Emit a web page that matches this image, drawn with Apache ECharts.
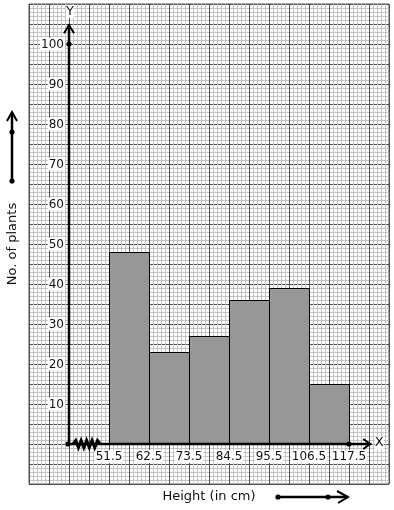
<!DOCTYPE html>
<html><head><meta charset="utf-8">
<script src="https://cdn.jsdelivr.net/npm/echarts@6/dist/echarts.min.js"></script>
<style>html,body{margin:0;padding:0;background:#fff}#c{width:394px;height:510px}</style>
</head><body><div id="c"></div>
<script>
// ---- data ----
const classBounds = ['51.5', '62.5', '73.5', '84.5', '95.5', '106.5', '117.5'];
const frequencies = [48, 23, 27, 36, 39, 15];
const yTickValues = [10, 20, 30, 40, 50, 60, 70, 80, 90, 100];
const xTitle = 'Height (in cm)';
const yTitle = 'No. of plants';

// ---- chart ----
const FONT = 'DejaVu Sans';
const chart = echarts.init(document.getElementById('c'), null, { renderer: 'canvas' });
const barData = frequencies.map((v, i) => [i + 1, i + 2, v]);

const X_MIN = -1, X_MAX = 8, Y_MIN = -10, Y_MAX = 110;
const MINOR = '#c4c4c4', MAJOR = '#505050';

function baseX(extra) {
  return Object.assign({
    type: 'value', min: X_MIN, max: X_MAX, interval: 0.5, gridIndex: 0,
    axisLine: { show: false, onZero: false }, axisTick: { show: false },
    axisLabel: { show: false }, splitLine: { show: false },
    minorTick: { show: false, splitNumber: 5 }, minorSplitLine: { show: false }
  }, extra);
}
function baseY(extra) {
  return Object.assign({
    type: 'value', min: Y_MIN, max: Y_MAX, interval: 5, gridIndex: 0,
    axisLine: { show: false, onZero: false }, axisTick: { show: false },
    axisLabel: { show: false }, splitLine: { show: false },
    minorTick: { show: false, splitNumber: 5 }, minorSplitLine: { show: false }
  }, extra);
}

const option = {
  animation: false,
  backgroundColor: '#fff',
  grid: { left: 29, top: 4, width: 360, height: 480, containLabel: false, outerBoundsMode: 'none', show: true,
          borderColor: MAJOR, borderWidth: 1, backgroundColor: 'transparent' },
  xAxis: [
    baseX({ z: 1, minorSplitLine: { show: true, lineStyle: { color: MINOR, width: 1 } } }),
    baseX({ z: 2, position: 'top', splitLine: { show: true, lineStyle: { color: MAJOR, width: 1, type: 'solid' } } }),
    baseX({
      z: 3, position: 'bottom', offset: -40,
      axisLine: { show: false, onZero: false },
      axisLabel: {
        show: true, margin: 6, color: '#111', fontFamily: FONT, fontSize: 12,
        formatter: v => (Number.isInteger(v) && v >= 1 && v <= classBounds.length) ? '{b|' + classBounds[v - 1] + '}' : '',
        rich: { b: { backgroundColor: '#fff', color: '#111', fontFamily: FONT, fontSize: 12, padding: [1, 1, 0, 1] } }
      },
      name: xTitle, nameLocation: 'middle', nameGap: 46,
      nameTextStyle: { fontFamily: FONT, fontSize: 13, color: '#111' }
    })
  ],
  yAxis: [
    baseY({ z: 1, minorSplitLine: { show: true, lineStyle: { color: MINOR, width: 1 } } }),
    baseY({ z: 0, position: 'right', splitLine: { show: true, lineStyle: { color: MAJOR, width: 1, type: 'solid' } } }),
    baseY({
      z: 3, position: 'left', offset: -40,
      axisLine: { show: false, onZero: false },
      axisLabel: {
        show: true, margin: 4, color: '#111', fontFamily: FONT, fontSize: 12,
        formatter: v => yTickValues.indexOf(v) >= 0 ? '{b|' + v + '}' : '',
        rich: { b: { backgroundColor: '#fff', color: '#111', fontFamily: FONT, fontSize: 12, padding: [1, 1, 0, 1] } }
      },
      name: yTitle, nameLocation: 'middle', nameGap: 50, nameRotate: 90,
      nameTextStyle: { fontFamily: FONT, fontSize: 13, color: '#111' }
    })
  ],
  series: [{
    type: 'custom', xAxisIndex: 0, yAxisIndex: 0, z: 5,
    data: barData,
    renderItem: function (params, api) {
      const top = api.coord([api.value(0), api.value(2)]);
      const bot = api.coord([api.value(1), 0]);
      return {
        type: 'rect',
        shape: { x: Math.round(top[0]) + 0.5, y: Math.round(top[1]) + 0.5,
                 width: Math.round(bot[0] - top[0]), height: Math.round(bot[1] - top[1]) },
        style: { fill: '#979797', stroke: '#000', lineWidth: 1 }
      };
    }
  }]
};
chart.setOption(option);

// ---- decorations (axes with arrows, break symbol, title arrows) ----
function P(x, y) { return chart.convertToPixel({ xAxisIndex: 0, yAxisIndex: 0 }, [x, y]); }
const o = P(0, 0);
const yTop = P(0, 104.7);
const xEnd = P(7.53, 0);
const LW = 2.5;
const g = [];
const Z = 20;
function line(x1, y1, x2, y2, w) {
  g.push({ type: 'line', z: Z, shape: { x1, y1, x2, y2 }, style: { stroke: '#000', lineWidth: w || LW, lineCap: 'round' } });
}
function poly(points, w) {
  g.push({ type: 'polyline', z: Z, shape: { points }, style: { stroke: '#000', lineWidth: w || 2, fill: null, lineJoin: 'miter' } });
}
function dot(x, y, r) {
  g.push({ type: 'circle', z: Z + 1, shape: { cx: x, cy: y, r: r || 2.6 }, style: { fill: '#000' } });
}
// y axis
line(o[0], o[1], yTop[0], yTop[1]);
poly([[yTop[0] - 5, yTop[1] + 8], [yTop[0], yTop[1]], [yTop[0] + 5, yTop[1] + 8]], 2);
const p100 = P(0, 100);
dot(p100[0], p100[1]);
// x axis
line(o[0], o[1], xEnd[0], xEnd[1]);
poly([[xEnd[0] - 7, xEnd[1] - 5], [xEnd[0], xEnd[1]], [xEnd[0] - 7, xEnd[1] + 5]], 2);
const pLast = P(classBounds.length, 0);
dot(pLast[0], pLast[1]);
dot(o[0] - 1, o[1]);
// break (zigzag) symbol
const zz = [];
const zs = P(0.1, 0), ze = P(0.78, 0);
const nSeg = 10;
for (let i = 0; i <= nSeg; i++) {
  const x = zs[0] + (ze[0] - zs[0]) * i / nSeg;
  const y = zs[1] + (i === 0 || i === nSeg ? 0 : (i % 2 ? -3.5 : 3.5));
  zz.push([x, y]);
}
g.push({ type: 'polyline', z: Z, shape: { points: zz }, style: { stroke: '#000', lineWidth: 3, fill: null } });
// axis letters
g.push({ type: 'text', z: Z, style: { text: 'Y', x: yTop[0] + 1, y: yTop[1] - 14, fill: '#111', font: '13px "DejaVu Sans"', align: 'center', verticalAlign: 'middle', backgroundColor: '#fff' } });
g.push({ type: 'text', z: Z, style: { text: 'X', x: xEnd[0] + 9, y: xEnd[1] - 1, fill: '#111', font: '13px "DejaVu Sans"', align: 'center', verticalAlign: 'middle', backgroundColor: '#fff' } });
// y title arrow
line(12, 181, 12, 113, 2.5);
poly([[7, 121], [12, 112], [17, 121]], 2);
dot(12, 181); dot(12, 132);
// x title arrow
line(278, 497, 347, 497, 2.5);
poly([[337, 491], [348, 497], [338, 503]], 2);
dot(278, 497); dot(328, 497);

chart.setOption({ graphic: g });
</script>
</body></html>
